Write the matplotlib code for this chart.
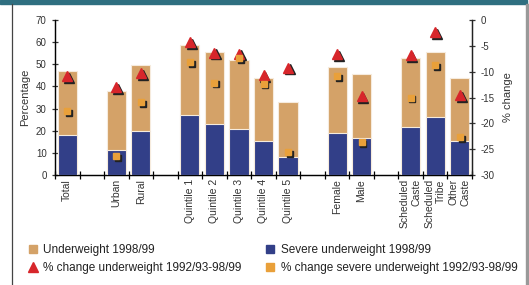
import matplotlib.pyplot as plt
import matplotlib.transforms as mtransforms
from matplotlib.lines import Line2D
from matplotlib.patches import Rectangle
import numpy as np

plt.rcParams['font.family'] = ['Liberation Sans', 'DejaVu Sans']
plt.rcParams['axes.unicode_minus'] = False

# Data
categories = ["Total", "Urban", "Rural", "Quintile 1", "Quintile 2", "Quintile 3",
              "Quintile 4", "Quintile 5", "Female", "Male",
              "Scheduled\nCaste", "Scheduled\nTribe", "Other\nCaste"]
group_sizes = [1, 2, 5, 2, 3]
underweight = [47, 38, 49.5, 58.5, 55.5, 52, 44, 33, 49, 45.5, 53, 55.7, 44]
severe = [18, 11.3, 20, 27, 23, 21, 15.5, 8.3, 19, 16.7, 21.5, 26, 15.3]
chg_underweight = [-10.8, -13.0, -10.2, -4.2, -6.3, -6.5, -10.6, -9.2, -6.6, -14.7, -6.8, -2.4, -14.5]
chg_severe = [-17.7, -26.3, -15.9, -8.2, -12.1, -7.4, -12.3, -25.5, -10.8, -23.7, -15.0, -8.8, -22.6]

tan = '#D4A268'
navy = '#323F88'
red = '#D7262B'
orange = '#E9A03A'

# x positions: groups separated by one empty slot
x = []
pos = 0
for g in group_sizes:
    for k in range(g):
        x.append(pos)
        pos += 1
    pos += 1
x = np.array(x)

fig = plt.figure(figsize=(5.29, 2.85), dpi=100)
ax = fig.add_axes([55/529, 1 - 175/285, (472 - 55)/529, (175 - 20)/285])

ax.bar(x, underweight, width=0.78, color=tan, edgecolor='#F6EBDD', linewidth=0.8, zorder=2)
ax.bar(x, severe, width=0.78, color=navy, edgecolor='#F6EBDD', linewidth=0.8, zorder=3)
ax.set_ylim(0, 70)
ax.set_xlim(-0.5, pos - 1.5)
ax.set_yticks(range(0, 71, 10))
ax.set_ylabel("Percentage", fontsize=8, color='#333333', labelpad=4)

ax.set_xticks(np.arange(-0.5, pos - 1, 1.0))
ax.set_xticklabels([])
ax.tick_params(axis='x', which='major', direction='inout', length=6, width=0.9)
ax.set_xticks(x, minor=True)
ax.set_xticklabels(categories, minor=True, rotation=90, fontsize=7.5, va='top',
                   ha='center', multialignment='right', color='#333333')
ax.tick_params(axis='x', which='minor', length=0, pad=3)
ax.tick_params(axis='y', direction='inout', length=5, width=0.9, labelsize=7, colors='#333333')
for s in ['top']:
    ax.spines[s].set_visible(False)
for s in ['left', 'bottom', 'right']:
    ax.spines[s].set_linewidth(1.0)
    ax.spines[s].set_color('#222222')

ax2 = ax.twinx()
ax2.set_ylim(-30, 0)
ax2.set_yticks(range(-30, 1, 5))
ax2.tick_params(axis='y', direction='inout', length=5, width=0.9, labelsize=7, colors='#333333')
ax2.spines['top'].set_visible(False)
ax2.spines['right'].set_color('#222222')
ax2.set_ylabel("% change", fontsize=8, color='#333333', labelpad=6)

shadow = mtransforms.offset_copy(ax2.transData, fig=fig, x=1.3, y=-1.3, units='points')
ax2.plot(x, chg_underweight, '^', color='#222222', ms=6.5, transform=shadow, zorder=4)
ax2.plot(x, chg_underweight, '^', color=red, ms=6.5, zorder=5)
ax2.plot(x, chg_severe, 's', color='#222222', ms=5, transform=shadow, zorder=4)
ax2.plot(x, chg_severe, 's', color=orange, ms=5, zorder=5)

handles = [
    Line2D([], [], marker='s', ls='', color=tan, ms=6),
    Line2D([], [], marker='^', ls='', color=red, ms=7),
    Line2D([], [], marker='s', ls='', color=navy, ms=6),
    Line2D([], [], marker='s', ls='', color=orange, ms=6),
]
labels = ["Underweight 1998/99", "% change underweight 1992/93-98/99",
          "Severe underweight 1998/99", "% change severe underweight 1992/93-98/99"]
fig.legend(handles, labels, ncol=2, loc='upper left', bbox_to_anchor=(28/529, 1 - 244/285),
           frameon=False, fontsize=8.5, handlelength=0.8, handletextpad=0.5,
           columnspacing=2.0, labelspacing=0.55, borderaxespad=0, borderpad=0,
           labelcolor='#222222')

# frame decorations
fig.patches.append(Rectangle((0, 1 - 4/285), 527/529, 4/285, transform=fig.transFigure,
                             color='#2F6F80', zorder=0))
fig.add_artist(Line2D([11.5/529, 11.5/529], [0, 1 - 4/285], transform=fig.transFigure,
                      color='#444444', lw=0.9))
fig.patches.append(Rectangle((526/529, 0), 3/529, 1 - 4/285, transform=fig.transFigure,
                             color='#999999', zorder=0))

fig.savefig("out.png", dpi=100)
